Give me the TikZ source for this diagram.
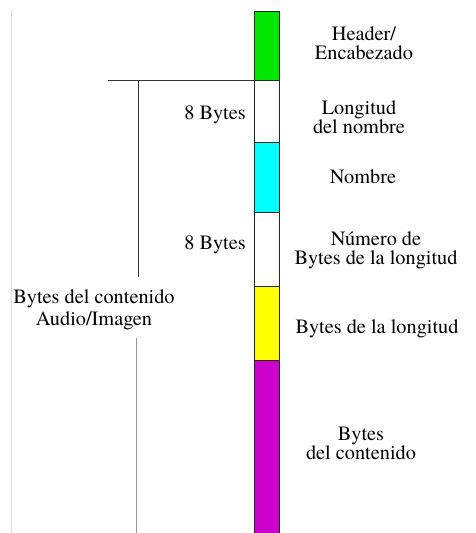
\documentclass[tikz,border=0pt]{standalone}
\usepackage{fontspec}
\setmainfont{TeX Gyre Termes}
\definecolor{hdrgreen}{RGB}{0,230,0}
\definecolor{namecyan}{RGB}{0,255,255}
\definecolor{lenyellow}{RGB}{255,255,0}
\definecolor{bodymagenta}{RGB}{204,0,204}
\begin{document}
\begin{tikzpicture}[x=1pt,y=-1pt,
  seg/.style={draw=black!85,line width=0.7pt,minimum width=25pt,inner sep=0pt,outer sep=0pt},
  lbl/.style={align=center,inner sep=0pt,font=\fontsize{20.3}{19}\selectfont},
  rule/.style={draw=black!80,line width=0.7pt},
  softrule/.style={draw=black!40,line width=0.9pt},
  edge/.style={draw=black!15,line width=1pt}]
\useasboundingbox (0,0) rectangle (475,533);
% memory layout column
\node[seg,fill=hdrgreen,minimum height=69pt] (hdr) at (267,45.5) {};
\node[seg,fill=white,minimum height=62pt] (lenname) at (267,111) {};
\node[seg,fill=namecyan,minimum height=70pt] (name) at (267,177) {};
\node[seg,fill=white,minimum height=74pt] (lenbytes) at (267,249) {};
\node[seg,fill=lenyellow,minimum height=74pt] (lenval) at (267,323) {};
\node[seg,fill=bodymagenta,minimum height=175pt] (body) at (267,447.5) {};
% field names
\node[lbl] (thdr) at (364,43.5) {Header/\\Encabezado};
\node[lbl] (tlenname) at (359,117.5) {Longitud\\del nombre};
\node[lbl] (tname) at (363,177) {Nombre};
\node[lbl] (tlenbytes) at (376,250.5) {Número de\\Bytes de la longitud};
\node[lbl] (tlenval) at (377,329) {Bytes de la longitud};
\node[lbl] (tbody) at (361,443.5) {Bytes\\del contenido};
% sizes
\node[lbl,anchor=east] (s1) at (246,115) {8 Bytes};
\node[lbl,anchor=east] (s2) at (246,244.5) {8 Bytes};
\node[lbl] (tpay) at (94,309.5) {Bytes del contenido\\[3pt]Audio/Imagen};
% brace of the content block
\coordinate (hl) at (108,80);
\coordinate (vt) at (138,80);
\coordinate (vm) at (138,277);
\coordinate (lt) at (136,338);
\coordinate (lb) at (136,533);
\coordinate (et) at (11,10);
\coordinate (eb) at (11,533);
\draw[rule] (hl) -- (hdr.south west);
\draw[rule] (vt) -- (vm);
\draw[softrule] (lt) -- (lb);
\draw[edge] (et) -- (eb);
\end{tikzpicture}
\end{document}
